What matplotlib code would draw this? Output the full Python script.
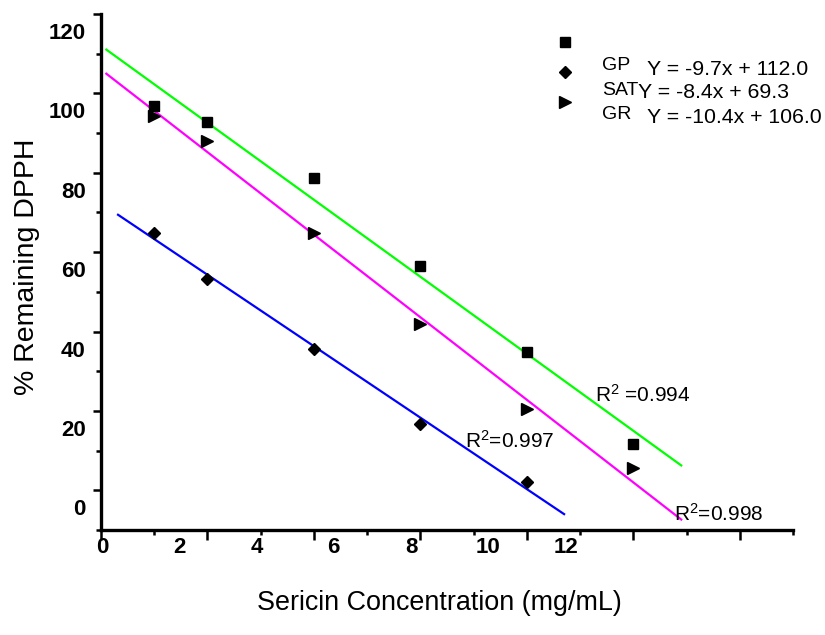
import numpy as np
import matplotlib.pyplot as plt
import matplotlib.transforms as mtransforms
from matplotlib.ticker import MultipleLocator

plt.rcParams['font.family'] = ['Liberation Sans', 'DejaVu Sans']
plt.rcParams['mathtext.default'] = 'regular'

# points (x = mg/mL, y = % remaining DPPH)
gp_x = [1, 2, 4, 6, 8, 10]
gp_y = [96.7, 92.9, 78.6, 56.4, 34.9, 11.6]
sat_x = [1, 2, 4, 6, 8]
sat_y = [64.8, 53.3, 35.5, 16.6, 2.1]
gr_x = [1, 2, 4, 6, 8, 10]
gr_y = [94.2, 87.9, 64.9, 41.8, 20.4, 5.5]

# trend lines as drawn: slope, intercept, x start, x end
gp_fit = [-9.7, 112.0, 0.1, 10.9]
sat_fit = [-9.0, 72.3, 0.32, 8.7]
gr_fit = [-10.4, 106.0, 0.1, 10.9]

names = ['GP', 'SAT', 'GR']
equations = ['Y = -9.7x + 112.0', 'Y = -8.4x + 69.3', 'Y = -10.4x + 106.0']
r2_labels = ['R$^2$ =0.994', 'R$^2$=0.997', 'R$^2$=0.998']

x_labels = [0, 2, 4, 6, 8, 10, 12]
y_ticks = [0, 20, 40, 60, 80, 100, 120]

fig = plt.figure(figsize=(8.25, 6.35), dpi=100)
ax = fig.add_axes([101 / 825, 105 / 635, 692 / 825, 516 / 635])
ax.set_xlim(0, 13)
ax.set_ylim(-10, 120)

# trend lines
for fit, col in zip([gp_fit, sat_fit, gr_fit], ['#00ff00', '#0000ff', '#ff00ff']):
    xs = np.array(fit[2:])
    ax.plot(xs, fit[0] * xs + fit[1], color=col, lw=1.6, zorder=2)

# data points
h_gp, = ax.plot(gp_x, gp_y, 's', color='black', ms=7, zorder=3, clip_on=False)
h_sat, = ax.plot(sat_x, sat_y, 'D', color='black', ms=6.5, zorder=3, clip_on=False)
h_gr, = ax.plot(gr_x, gr_y, '>', color='black', ms=9, zorder=3, clip_on=False)

# axes styling
for side in ['top', 'right']:
    ax.spines[side].set_visible(False)
for side in ['left', 'bottom']:
    ax.spines[side].set_linewidth(2.4)

ax.xaxis.set_major_locator(MultipleLocator(2))
ax.xaxis.set_minor_locator(MultipleLocator(1))
ax.set_yticks(y_ticks)
ax.yaxis.set_minor_locator(MultipleLocator(10))
ax.tick_params(axis='x', which='major', length=7.5, width=1.8, labelbottom=False)
ax.tick_params(axis='x', which='minor', length=3.8, width=1.8)
ax.tick_params(axis='y', which='major', length=6, width=1.8, pad=5, labelsize=16)
ax.tick_params(axis='y', which='minor', length=3.8, width=1.8)
ax.set_yticklabels([str(v) for v in y_ticks], fontweight='bold')

# y labels sit a bit below their ticks in the original
shift = mtransforms.ScaledTranslation(0, -0.17, fig.dpi_scale_trans)
for lab in ax.get_yticklabels():
    lab.set_transform(lab.get_transform() + shift)

# x labels are spaced on their own scale
for v in x_labels:
    ax.text(0.02 + v * 0.7256, -0.033, str(v), transform=ax.get_xaxis_transform(),
            ha='center', va='center', fontsize=16, fontweight='bold')

# legend markers
ax.legend([h_gp, h_sat, h_gr], [' ', ' ', ' '], loc='upper left',
          bbox_to_anchor=(555 / 825, 1 - 35 / 635), bbox_transform=fig.transFigure,
          frameon=False, fontsize=14, handlelength=1, handletextpad=0,
          borderpad=0, borderaxespad=0, labelspacing=0.63)

name_pos = [(9.41, 105.9), (9.41, 99.6), (9.41, 93.6)]
eq_pos = [(10.26, 104.7), (10.09, 98.8), (10.26, 92.6)]
for name, eq, npos, epos in zip(names, equations, name_pos, eq_pos):
    ax.text(npos[0], npos[1], name, fontsize=14, va='baseline')
    ax.text(epos[0], epos[1], eq, fontsize=15.3, va='baseline')

r2_pos = [(9.28, 22.2), (6.84, 10.6), (10.76, -7.7)]
for lab, pos in zip(r2_labels, r2_pos):
    ax.text(pos[0], pos[1], lab, fontsize=15, va='baseline')

fig.text(0.533, 0.0504, 'Sericin Concentration (mg/mL)', ha='center', va='center', fontsize=19.4)
fig.text(0.0333, 0.58, '% Remaining DPPH', ha='center', va='center', rotation=90, fontsize=20.5)

fig.savefig('out.png', dpi=100)
